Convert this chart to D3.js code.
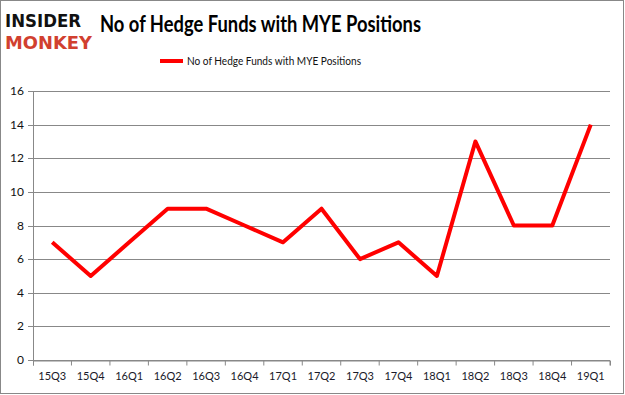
<!DOCTYPE html>
<html>
<head>
<meta charset="utf-8">
<script src="https://cdn.jsdelivr.net/npm/d3@7"></script>
<style>
  body { margin: 0; background: #fff; }
  svg { display: block; }
</style>
</head>
<body>
<div id="chart"></div>
<script>
const quarters = ['15Q3', '15Q4', '16Q1', '16Q2', '16Q3', '16Q4', '17Q1', '17Q2',
                  '17Q3', '17Q4', '18Q1', '18Q2', '18Q3', '18Q4', '19Q1'];
const funds = [7, 5, 7, 9, 9, 8, 7, 9, 6, 7, 5, 13, 8, 8, 14];
const yTicks = [0, 2, 4, 6, 8, 10, 12, 14, 16];
const seriesName = 'No of Hedge Funds with MYE Positions';
const titleText = 'No of Hedge Funds with MYE Positions';

const width = 625, height = 395;
const margin = {top: 91, right: 15, bottom: 35, left: 33};

const svg = d3.select('#chart').append('svg')
              .attr('width', width)
              .attr('height', height);

// outer frame
svg.append('rect')
   .attr('x', 0.5).attr('y', 0.5)
   .attr('width', width - 2).attr('height', height - 2)
   .attr('fill', '#fff')
   .attr('stroke', '#888');

// logo
svg.append('text')
   .attr('x', 5).attr('y', 27)
   .attr('font-family', 'DejaVu Sans')
   .attr('font-weight', 'bold')
   .attr('font-size', 18)
   .attr('textLength', 76).attr('lengthAdjust', 'spacingAndGlyphs')
   .attr('fill', '#111')
   .text('INSIDER');
svg.append('text')
   .attr('x', 5).attr('y', 49)
   .attr('font-family', 'DejaVu Sans')
   .attr('font-weight', 'bold')
   .attr('font-size', 18)
   .attr('textLength', 87).attr('lengthAdjust', 'spacingAndGlyphs')
   .attr('fill', '#d1402f')
   .text('MONKEY');

// title
svg.append('text')
   .attr('x', 100).attr('y', 32)
   .attr('font-family', 'Lato, "Open Sans", sans-serif')
   .attr('font-weight', 'bold')
   .attr('font-size', 22)
   .attr('textLength', 321).attr('lengthAdjust', 'spacingAndGlyphs')
   .attr('fill', '#000')
   .text(titleText);

// legend
svg.append('line')
   .attr('x1', 160).attr('x2', 183)
   .attr('y1', 61).attr('y2', 61)
   .attr('stroke', '#ff0000')
   .attr('stroke-width', 4);
svg.append('text')
   .attr('x', 187).attr('y', 65)
   .attr('font-family', 'Lato, "Open Sans", sans-serif')
   .attr('font-size', 12)
   .attr('textLength', 174).attr('lengthAdjust', 'spacingAndGlyphs')
   .attr('fill', '#111')
   .text(seriesName);

const plotW = width - margin.left - margin.right;
const plotH = height - margin.top - margin.bottom;

const x = d3.scaleBand()
            .domain(quarters)
            .range([margin.left, margin.left + plotW]);

const y = d3.scaleLinear()
            .domain([0, 16])
            .range([margin.top + plotH, margin.top]);

// grid
svg.append('g')
   .selectAll('line')
   .data(yTicks)
   .join('line')
   .attr('x1', margin.left - 5)
   .attr('x2', margin.left + plotW)
   .attr('y1', d => Math.round(y(d)) + 0.5)
   .attr('y2', d => Math.round(y(d)) + 0.5)
   .attr('stroke', '#888');

// y labels
svg.append('g')
   .selectAll('text')
   .data(yTicks)
   .join('text')
   .attr('x', 24)
   .attr('y', d => y(d) + 4)
   .attr('text-anchor', 'end')
   .attr('font-family', 'Lato, "Open Sans", sans-serif')
   .attr('font-size', 12)
   .attr('fill', '#111')
   .text(d => d);

// y axis line
svg.append('line')
   .attr('x1', margin.left + 0.5).attr('x2', margin.left + 0.5)
   .attr('y1', margin.top).attr('y2', Math.round(y(0)) + 0.5)
   .attr('stroke', '#888');

// x axis ticks
const xAxis = d3.axisBottom(x)
                .tickSize(5)
                .tickFormat(d => d);
const gx = svg.append('g')
              .attr('transform', 'translate(0,' + (Math.round(y(0)) + 0.5) + ')')
              .call(xAxis);
gx.select('.domain').attr('stroke', '#888');
gx.selectAll('.tick line')
  .attr('stroke', '#888')
  .attr('transform', `translate(${x.bandwidth() / 2},0)`);
gx.append('line')
  .attr('x1', margin.left + 0.5).attr('x2', margin.left + 0.5)
  .attr('y1', 0).attr('y2', 5)
  .attr('stroke', '#888');
gx.selectAll('.tick text')
  .attr('y', 12)
  .attr('font-family', 'Lato, "Open Sans", sans-serif')
  .attr('font-size', 11)
  .attr('fill', '#1a1a2a');

// series
const line = d3.line()
               .x((d, i) => x(quarters[i]) + x.bandwidth() / 2)
               .y(d => y(d));

svg.append('path')
   .datum(funds)
   .attr('d', line)
   .attr('fill', 'none')
   .attr('stroke', '#ff0000')
   .attr('stroke-width', 4)
   .attr('stroke-linejoin', 'round');
</script>
</body>
</html>
